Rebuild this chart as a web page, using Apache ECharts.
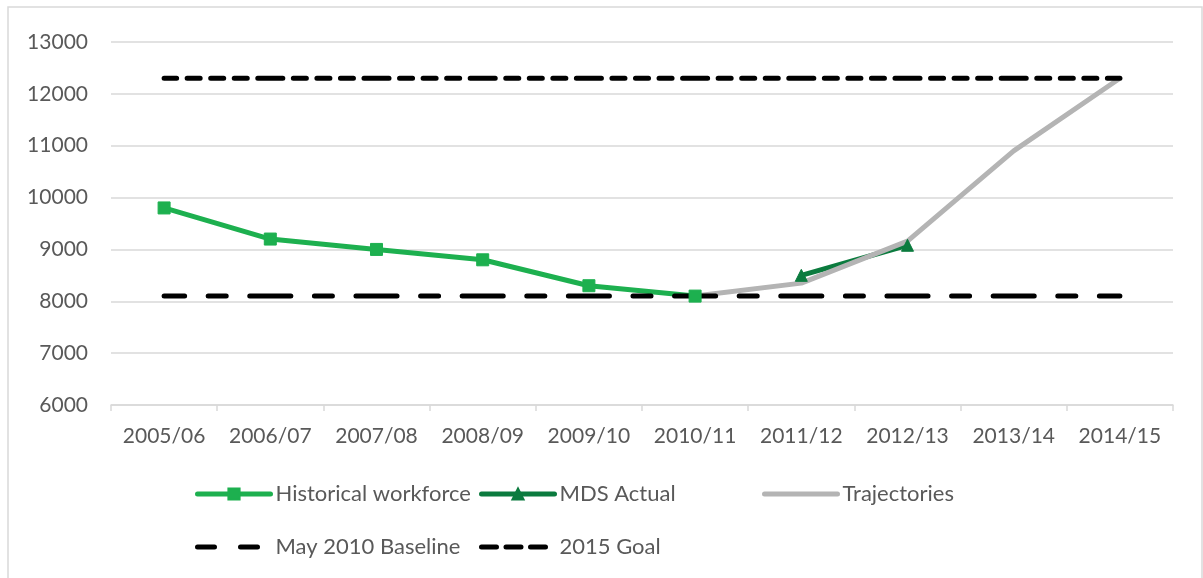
<!DOCTYPE html>
<html>
<head>
<meta charset="utf-8">
<script src="https://cdn.jsdelivr.net/npm/echarts@6/dist/echarts.min.js"></script>
<style>
  html, body { margin: 0; padding: 0; background: #fff; }
  #chart { width: 1203px; height: 578px; }
</style>
</head>
<body>
<div id="chart"></div>
<script>
// Workforce figures by financial year
const categories = ['2005/06', '2006/07', '2007/08', '2008/09', '2009/10',
                    '2010/11', '2011/12', '2012/13', '2013/14', '2014/15'];
const historicalWorkforce = [9800, 9200, 9000, 8800, 8300, 8100, null, null, null, null];
const mdsActual = [null, null, null, null, null, null, 8500, 9080, null, null];
const trajectories = [null, null, null, null, null, 8100, 8350, 9160, 10900, 12300];
const may2010Baseline = [8100, 8100, 8100, 8100, 8100, 8100, 8100, 8100, 8100, 8100];
const goal2015 = [12300, 12300, 12300, 12300, 12300, 12300, 12300, 12300, 12300, 12300];
const yTicks = { min: 6000, max: 13000, interval: 1000 };

const FONT = 'Lato';
const TEXT = '#595959';
const GRID = '#d9d9d9';
const GREEN = '#1db04f';
const DARK_GREEN = '#0b7b3e';
const GREY = '#b4b4b4';

const W = 1203, GL = 111, GR = 30;
// dash patterns repeat once per category step so every point sits on a joined dash
const step = (W - GL - GR) / categories.length;
const k = step / 106;
const scale = a => a.map(v => v * k);
const baselineDash = scale([41, 23.5, 18, 23.5]);
const goalDash = scale([25, 10.5, 13, 10.5, 13, 10.5, 13, 10.5]);

const chart = echarts.init(document.getElementById('chart'), null, { renderer: 'canvas' });

const legendBase = {
  orient: 'horizontal',
  padding: 0,
  itemWidth: 73,
  itemHeight: 14,
  itemGap: 0,
  textStyle: { fontFamily: FONT, fontSize: 22, color: TEXT },
  selectedMode: false
};
const solidIcon = { width: 5, cap: 'round' };
const noMarker = { opacity: 0 };

chart.setOption({
  animation: false,
  backgroundColor: '#fff',
  graphic: [{
    type: 'rect',
    shape: { x: 8, y: 7, width: 1194, height: 620 },
    style: { fill: 'none', stroke: GRID, lineWidth: 1.5 },
    silent: true
  }],
  grid: { left: GL, right: GR, top: 42, bottom: 173, containLabel: false },
  xAxis: {
    type: 'category',
    data: categories,
    boundaryGap: true,
    axisLine: { lineStyle: { color: GRID, width: 1.5 } },
    axisTick: { show: true, length: 6, lineStyle: { color: GRID, width: 1.5 } },
    axisLabel: { fontFamily: FONT, fontSize: 21, color: TEXT, margin: 21, interval: 0 },
    splitLine: { show: false }
  },
  yAxis: {
    type: 'value',
    min: yTicks.min,
    max: yTicks.max,
    interval: yTicks.interval,
    axisLine: { show: false },
    axisTick: { show: false },
    axisLabel: { fontFamily: FONT, fontSize: 21, color: TEXT, margin: 23, formatter: v => String(v) },
    splitLine: { lineStyle: { color: GRID, width: 1.5 } }
  },
  legend: [
    Object.assign({}, legendBase, { left: 195, top: 483, data: [{
      name: 'Historical workforce', lineStyle: solidIcon
    }] }),
    Object.assign({}, legendBase, { left: 479, top: 483, data: [{
      name: 'MDS Actual', lineStyle: solidIcon
    }] }),
    Object.assign({}, legendBase, { left: 762, top: 483, data: [{
      name: 'Trajectories', lineStyle: solidIcon, itemStyle: noMarker
    }] }),
    Object.assign({}, legendBase, { left: 195, top: 536, data: [{
      name: 'May 2010 Baseline', itemStyle: noMarker,
      lineStyle: { width: 5, cap: 'round', type: [17, 26, 17, 40], dashOffset: 0 }
    }] }),
    Object.assign({}, legendBase, { left: 479, top: 536, data: [{
      name: '2015 Goal', itemStyle: noMarker,
      lineStyle: { width: 5, cap: 'round', type: [15, 9.5, 15, 9.5, 15, 40], dashOffset: 0 }
    }] })
  ],
  series: [
    {
      name: 'Historical workforce', type: 'line', data: historicalWorkforce,
      symbol: 'rect', symbolSize: 12, showSymbol: true,
      lineStyle: { color: GREEN, width: 5, cap: 'round', join: 'round' },
      itemStyle: { color: GREEN, borderColor: GREEN, borderWidth: 1 }
    },
    {
      name: 'MDS Actual', type: 'line', data: mdsActual,
      symbol: 'triangle', symbolSize: 12,
      lineStyle: { color: DARK_GREEN, width: 5, cap: 'round', join: 'round' },
      itemStyle: { color: DARK_GREEN, borderColor: DARK_GREEN, borderWidth: 1 }
    },
    {
      name: 'Trajectories', type: 'line', data: trajectories,
      symbol: 'none', showSymbol: false,
      lineStyle: { color: GREY, width: 5, cap: 'round', join: 'round' },
      itemStyle: { color: GREY }
    },
    {
      name: 'May 2010 Baseline', type: 'line', data: may2010Baseline,
      symbol: 'none', showSymbol: false,
      lineStyle: { color: '#000', width: 5, type: baselineDash, dashOffset: 20.5 * k, cap: 'round' },
      itemStyle: { color: '#000' }
    },
    {
      name: '2015 Goal', type: 'line', data: goal2015,
      symbol: 'none', showSymbol: false,
      lineStyle: { color: '#000', width: 5, type: goalDash, dashOffset: 12.5 * k, cap: 'round' },
      itemStyle: { color: '#000' }
    }
  ]
});
</script>
</body>
</html>
